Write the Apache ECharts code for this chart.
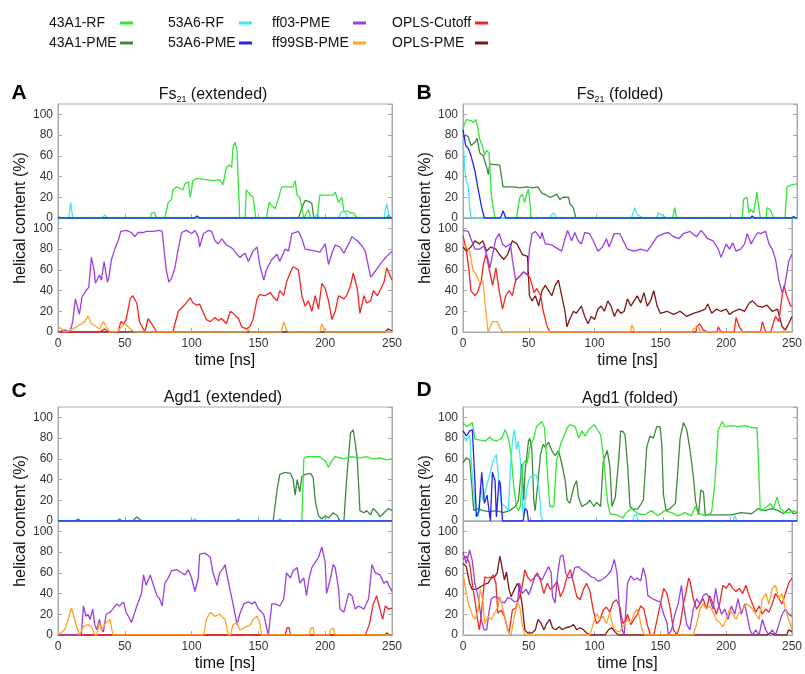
<!DOCTYPE html>
<html>
<head>
<meta charset="utf-8">
<script src="https://cdn.jsdelivr.net/npm/echarts@6/dist/echarts.min.js"></script>
<style>
  html, body { margin: 0; background: #fff; }
  #chart { width: 805px; height: 674px; }
</style>
</head>
<body>
<div id="chart"></div>
<script>
// ---- data: [time ns, helical content %] ----
// A: Fs21 (extended)
const A_rf = [[0,0],[69,0],[70,5],[72.5,5],[73.5,0],[80,0],[82.5,15],[85,18],[86,27],[88.5,30],[91,29],[93.5,27],[95,33],[97.5,35],[99,20],[101,36],[103.5,38],[106,38],[111,37],[116,36],[121,37],[123.5,32],[126,49],[128.5,51],[130,49],[131,68],[132.5,73],[134,65],[136,0],[140,0],[141,27],[143.5,23],[146,20],[148,0],[156,0],[158,15],[160,12],[162.5,9],[165,19],[167.5,30],[176,30],[177.5,36],[179,22],[181,20],[184,0],[186,5],[187.5,8],[189,0],[194,0],[196,22],[206,22],[207.5,25],[210,15],[212.5,20],[214,6],[216,7],[219,5],[221,5],[224,0],[250,0]];
const A_pme = [[0,1],[3,0],[180,0],[182.5,10],[185,17],[187.5,16],[190,14],[191.5,0],[246,0],[247.5,3],[249,0],[250,0]];
const A_53rf = [[0,0],[8,0],[9.5,15],[11,0],[33,0],[35,3],[37,0],[192,0],[194,4],[196,0],[210,0],[212,6],[215,6],[217,0],[244,0],[246,14],[248,0],[250,0]];
const A_53pme = [[0,0],[102,0],[104,2],[106,0],[250,0]];
const A_ff03 = [[0,0],[5,2],[9,0],[11,10],[13,32],[16,17],[18,34],[21,40],[23,43],[25,72],[27,60],[28,47],[31,55],[32.5,50],[34.5,68],[37,48],[38,52],[40,70],[42.5,80],[45,88],[47,97],[51,98],[55,96],[57.5,92],[60,96],[64,96],[66,97],[71,97],[76,98],[78,97],[80,72],[81,60],[83,48],[85,52],[87.5,62],[90,80],[92.5,96],[96,98],[100,95],[102.5,98],[105,92],[106,82],[109,95],[112.5,98],[115,97],[117.5,88],[120,85],[122.5,90],[126,84],[129,82],[131,80],[134,75],[136,72],[140,76],[142.5,68],[146,78],[149,82],[151,65],[154,50],[156,60],[160,70],[164,75],[166,68],[170,80],[172.5,78],[175,95],[180,97],[182.5,90],[185,80],[189,79],[192.5,78],[196,77],[200,85],[202.5,65],[205,76],[207.5,84],[211,82],[214,76],[217.5,85],[220,92],[224,88],[227.5,83],[230,78],[234,53],[236,56],[241,65],[244,70],[246,73],[250,78]];
const A_cut = [[0,0],[31,0],[35,3],[37.5,0],[45,0],[47,10],[49,8],[51,12],[54,32],[56,35],[59,28],[61,10],[63,5],[65,0],[67.5,13],[70,8],[74,0],[86,0],[90,20],[94,25],[99,33],[101,28],[104,26],[106,27],[109,18],[111,12],[114,10],[117.5,14],[120,11],[122.5,13],[126,8],[129,20],[131,18],[135,13],[137.5,5],[141,3],[143.5,5],[146,12],[149,32],[151,36],[155,35],[159,38],[161,34],[164,30],[166,40],[169,35],[171,48],[174,58],[176,63],[180,60],[182.5,35],[185,25],[187.5,30],[190,20],[192.5,35],[195,22],[197.5,47],[200,42],[202.5,30],[205,12],[207.5,20],[210,35],[214,32],[216,35],[219,45],[221,57],[224,42],[226,18],[229,35],[231,28],[234,30],[236,40],[239,35],[241,40],[244,48],[246,62],[250,50]];
const A_ff99 = [[0,5],[2.5,3],[5,0],[10,2],[14,5],[17.5,8],[20,10],[22.5,15],[25,8],[29,5],[31,3],[34,10],[36,5],[39,0],[44,0],[46,3],[50,8],[52.5,5],[55,2],[57.5,0],[141,0],[142.5,3],[144,0],[167,0],[169,10],[171,2],[173,0],[196,0],[197.5,8],[200,0],[250,0]];
const A_opls = [[0,0],[245,0],[247,3],[250,1]];

// B: Fs21 (folded)
const B_rf = [[0,86],[1.5,92],[2.5,95],[6,94],[7.5,92],[9.5,95],[11,88],[12.5,76],[15,68],[16,60],[17.5,65],[19.5,63],[21,25],[22.5,10],[24,0],[40,0],[42.5,20],[44.5,23],[46,15],[47.5,22],[49,28],[50.5,10],[51,0],[157,0],[158.5,10],[160,0],[209,0],[210,18],[212.5,20],[214,5],[215.5,8],[217.5,5],[220,25],[222.5,0],[227,0],[227.5,10],[230,8],[232.5,0],[241,0],[242.5,30],[246,32],[250,33]];
const B_pme = [[0,78],[2.5,80],[4,78],[6,70],[9,73],[10.5,77],[12.5,63],[15,60],[17.5,50],[19,42],[20,52],[27.5,51],[30,30],[37.5,30],[42.5,29],[47.5,30],[52.5,29],[56,30],[59,24],[62.5,22],[65,20],[67.5,21],[70,23],[72.5,18],[75,20],[79,20],[80,14],[82.5,10],[84.5,0],[250,0]];
const B_53rf = [[0,75],[1.5,45],[2.5,35],[4,30],[5,10],[6,0],[65,0],[66,3],[68,5],[70,0],[126,0],[128.5,10],[130.5,3],[135,0],[145,0],[146,5],[150,2],[152.5,0],[250,0]];
const B_53pme = [[0,85],[2,70],[4,67],[6,60],[9,45],[11,30],[14,10],[16,0],[28,0],[30,7],[32,0],[215,0],[216.5,2],[218,0],[246,0],[247.5,1.5],[249,0],[250,0]];
const B_ff03 = [[0,98],[4,97],[6,90],[9,80],[12.5,80],[16,83],[19,70],[20.5,62],[22.5,75],[25,90],[27.5,95],[30,85],[32.5,82],[36,85],[37.5,70],[40,50],[44,55],[46,58],[49,55],[50.5,80],[52.5,95],[55,97],[59,90],[60,96],[62.5,85],[67.5,84],[72.5,80],[75,78],[77.5,90],[79.5,98],[82.5,88],[85,96],[87.5,88],[90,85],[92.5,96],[96,95],[99,88],[102.5,78],[106,82],[109,90],[111,82],[115,95],[119,95],[121,90],[125,80],[130,78],[135,80],[140,78],[144,85],[147.5,92],[152.5,95],[156,96],[160,92],[164,90],[167.5,95],[172.5,97],[177.5,92],[181,98],[186,90],[190,88],[194,80],[196,72],[200,85],[202.5,80],[205,86],[207.5,78],[211,80],[214,85],[216,95],[219,85],[221,90],[224,96],[226,95],[230,97],[232.5,85],[235,80],[237.5,70],[240,50],[242.5,38],[244.5,45],[247.5,68],[250,75]];
const B_cut = [[0,93],[2.5,80],[4.5,60],[6,40],[9,35],[11,38],[14,50],[15.5,65],[17.5,75],[20,60],[22.5,45],[25,62],[27.5,40],[30,22],[32.5,35],[35,40],[37.5,35],[40,50],[44,55],[46,58],[49,55],[51,52],[54,38],[56,42],[59,35],[61,20],[64,5],[66,0],[177,0],[177.5,5],[180,8],[182.5,2],[186,0],[193,0],[194,5],[196,0],[206,0],[207.5,14],[210,5],[212.5,0],[226,0],[227.5,10],[230,0],[234,0],[235,5],[237.5,15],[240,10],[242.5,35],[244,45],[246,35],[249,25],[250,25]];
const B_ff99 = [[0,85],[2.5,82],[5,78],[7.5,60],[10,55],[12.5,48],[15,50],[17,25],[19,0],[20,0],[22.5,10],[26,10],[29,2],[30,0],[127,0],[128.5,7],[130.5,0],[174,0],[175,3],[178.5,5],[181,0],[243,0],[244,2],[246,0],[250,0]];
const B_opls = [[0,82],[2.5,78],[6,82],[9,88],[12.5,85],[15,88],[18,78],[21,82],[25,80],[27.5,75],[31,70],[34,75],[37.5,88],[41,85],[45,75],[49,73],[50.5,35],[52.5,30],[55,35],[57.5,25],[60,40],[62.5,45],[65,40],[67.5,35],[70,45],[72.5,50],[75,35],[77.5,20],[79,5],[81,12],[84,20],[86,18],[90,25],[92.5,15],[95,8],[97.5,15],[100,12],[102.5,22],[105,25],[107.5,20],[110,30],[112.5,25],[115,15],[117.5,22],[120,18],[122.5,20],[125,32],[127.5,25],[130,30],[132.5,35],[135,28],[137.5,38],[140,25],[142.5,30],[145,40],[147.5,25],[150,18],[155,20],[160,17],[165,20],[170,15],[175,18],[180,20],[184,22],[186,27],[189,18],[192.5,22],[196,20],[200,22],[202.5,17],[206,20],[210,22],[214,20],[217.5,28],[220,30],[224,25],[227.5,24],[231,26],[235,20],[239,22],[242.5,5],[245,2],[247.5,8],[250,15]];

// C: Agd1 (extended)
const C_rf = [[0,0],[59,0],[61,1.5],[63,0],[133,0],[135,2],[137,0],[164,0],[166,2],[168,0],[182.5,0],[184,60],[186,62],[196,62],[200,58],[202.5,52],[205,58],[207.5,62],[214,60],[219,62],[226,61],[231,62],[236,60],[241,61],[246,59],[250,60]];
const C_pme = [[0,0],[13,0],[15,2],[17,0],[30,0],[31,1],[32,0],[44,0],[46,2],[48,0],[56,0],[59,4],[61,2],[63,0],[161,0],[164,30],[166,45],[170,47],[174,46],[176,40],[177.5,25],[179,40],[181,28],[182.5,43],[185,45],[189,46],[191,42],[192.5,20],[195,5],[197.5,2],[200,5],[202.5,3],[206,8],[209,5],[211,0],[214,0],[216,40],[219,85],[221,88],[222.5,75],[224,60],[226,10],[229,8],[231,10],[234,6],[236,12],[239,8],[241,4],[244,8],[247.5,12],[250,10]];
const C_53rf = [[0,0],[100,0],[102.5,2],[104,0],[250,0]];
const C_53pme = [[0,0],[250,0]];
const C_ff03 = [[0,0],[17.5,0],[19,28],[21,18],[22.5,20],[24,15],[26,25],[27.5,10],[29,5],[31,15],[32.5,5],[34,3],[36,20],[39,22],[41,25],[44,30],[46,28],[49,32],[51,22],[54,15],[55,12],[59,28],[62.5,40],[64,58],[66,48],[69,58],[71,50],[74,38],[76,35],[78,28],[80,50],[82.5,55],[85,62],[89,63],[92.5,60],[95,58],[97.5,63],[100,55],[102.5,42],[105,55],[106,78],[110,79],[114,75],[116,60],[119,48],[121,60],[124,65],[125,68],[127,55],[129,42],[131,30],[134,10],[136,20],[139,30],[142.5,32],[145,30],[147.5,32],[150,25],[154,20],[156,8],[157.5,0],[160,30],[162.5,30],[166,28],[169,35],[171,60],[174,55],[176,62],[179,65],[181,50],[184,55],[186,38],[188,55],[190,65],[192.5,70],[195,75],[197.5,85],[200,70],[201,40],[204,55],[206,68],[207.5,65],[210,45],[211,25],[214,22],[217.5,40],[220,38],[222.5,25],[225,28],[229,25],[232.5,35],[235,68],[237.5,60],[241,58],[244,50],[246,52],[250,42]];
const C_ff99 = [[0,0],[1,0],[5,5],[7.5,15],[10,26],[12.5,15],[14,8],[16,0],[17,0],[19,8],[22.5,10],[25,8],[27.5,0],[29,0],[31,12],[32.5,5],[36,12],[39,15],[41,0],[109,0],[111,15],[114,22],[117.5,18],[121,20],[125,15],[127.5,0],[129,0],[131,10],[134,12],[136,5],[141,8],[144,10],[146,15],[149,18],[151,12],[152.5,0],[188,0],[189.5,7],[191,7],[192,0],[203,0],[204,5],[206,7],[207.5,0],[250,0]];
const C_cut = [[0,0],[170,0],[171.5,7],[173,7],[174,0],[230,0],[233,10],[236,30],[238.5,38],[241,25],[243,15],[245,28],[247.5,25],[250,26]];
const C_opls = [[0,0],[12,0],[13,1.5],[14,0],[228,0],[229,1],[230,0],[245,0],[246,2],[248,0],[250,0]];

// D: Agd1 (folded)
const D_rf = [[0,95],[2.5,91],[5,93],[7,95],[9,79],[13,78],[16.5,77],[20,81],[22.5,78],[25,77],[29,80],[31.5,88],[34,80],[36,64],[38,33],[40,14],[41.5,10],[43,15],[45,55],[46.5,58],[48,56],[50,71],[53,80],[55,91],[59,96],[61,90],[62,71],[64,30],[65,14],[68,14],[70,58],[73,74],[75,80],[78,90],[80,93],[84,91],[86.5,80],[89,87],[91.5,82],[94,88],[98,93],[100,90],[103,83],[105,64],[108,20],[110,7],[115,6],[120,3],[121.3,7],[126,12],[131,7],[136,6],[141,10],[146,5],[151,10],[156,8],[161,5],[166,8],[171,5],[174,14],[176,8],[181,5],[186,8],[188.5,36],[191,87],[194,96],[196,91],[201,92],[206,91],[211,92],[216,90],[220,90],[221.3,52],[222.5,10],[226,12],[230,17],[232.5,12],[235,23],[237.5,12],[241,8],[244,8],[247.5,10],[250,8]];
const D_pme = [[0,56],[2.5,61],[5,59],[6.5,36],[8,10],[11.5,12],[15,10],[20,9],[25,10],[30,8],[35,10],[39,14],[41.5,20],[44,55],[45.5,20],[46.5,48],[49,77],[50,80],[51.5,70],[53,20],[54,10],[56,36],[58,64],[60,74],[61.5,71],[64,76],[66.5,68],[69,63],[71.5,68],[74,55],[76.5,39],[78,20],[80,17],[83,33],[85,39],[86.5,23],[89,14],[93,17],[95,20],[98,14],[100,18],[103,14],[105,58],[108,68],[110,52],[111.5,14],[114,23],[116.5,58],[118,87],[120,86],[121.3,83],[123.3,52],[125,14],[127.5,11],[131,12],[135,20],[137.5,71],[140,82],[142.5,80],[145,91],[147.5,91],[148.8,74],[150,26],[152,10],[155,12],[159,17],[161,52],[162.5,80],[165,95],[167.5,88],[170,68],[172.5,42],[174,20],[176.3,6],[178,30],[180,28],[181.3,6],[186,6],[193,6],[201,6],[208,8],[216,7],[221,12],[226,10],[231,12],[236,10],[240,7],[244,12],[247.5,7],[250,8]];
const D_53rf = [[0,83],[2.5,77],[5,83],[6.5,52],[9,14],[11.5,4],[13,33],[15,20],[17.5,33],[20,45],[22.5,58],[25,64],[27,36],[29,17],[31.5,14],[34,10],[35.5,52],[37,77],[38.5,88],[40,69],[41.5,77],[43,58],[45,5],[48,33],[50,42],[53,45],[55,44],[57,30],[58.5,4],[60,0],[127,0],[128.5,6],[130,6],[131,0],[202,0],[203.5,5],[205,0],[250,0]];
const D_53pme = [[0,87],[2.5,82],[5,87],[7,88],[9,36],[10,4],[12,10],[14,47],[16,17],[18,25],[19,26],[20.5,0],[22,47],[24,39],[25,4],[27,39],[28,36],[29.5,0],[45,0],[46.5,12],[48,10],[49,0],[250,0]];
const D_ff03 = [[0,80],[2.5,69],[5,82],[7,72],[9,50],[11.5,37],[14,14],[16,5],[18,5],[20,24],[21.5,35],[24,37],[26.5,36],[29,32],[31.5,31],[34,36],[36.5,35],[39,32],[41.5,33],[43,50],[45,40],[48,44],[50,39],[53,50],[55,58],[58,56],[60,53],[63,61],[65,66],[67,60],[68,37],[70,31],[72,60],[74,76],[76,77],[78,60],[80,55],[83,56],[85,65],[88,66],[90,63],[94,60],[97.5,56],[100,55],[102.5,52],[105,53],[107.5,55],[110,58],[112.5,62],[115,73],[117,60],[119,24],[121,5],[122.5,0],[125,50],[127.5,57],[130,53],[132.5,55],[135,52],[137,65],[139,55],[140.5,38],[144,35],[147.5,33],[150,32],[152.5,20],[155,12],[156,0],[158.5,5],[161,20],[163.5,30],[166,48],[167.5,30],[170,10],[172.5,5],[175,25],[177.5,35],[180,30],[182.5,38],[185,40],[187.5,35],[190,25],[192,45],[194,30],[196.5,20],[199,25],[201.5,15],[204,28],[206.5,20],[209,35],[211.5,20],[214,30],[216.5,15],[218,5],[220,0],[222.5,5],[225,0],[227.5,15],[230,5],[232.5,0],[235,5],[237.5,0],[240,10],[242.5,20],[245,25],[247.5,20],[250,18]];
const D_cut = [[0,73],[2.5,76],[5,69],[7,50],[9,34],[11,15],[12.5,5],[14,21],[16.5,56],[19,55],[21.5,56],[23,58],[25,50],[26.5,21],[29,24],[31.5,18],[34,5],[35,2],[37.5,24],[40,26],[43,37],[45,47],[47,63],[49,56],[51.5,52],[54,55],[56.5,60],[59,52],[61.5,40],[64,50],[66.5,44],[69,47],[71.5,52],[74,37],[76.5,44],[79,56],[81.5,63],[84,50],[86.5,37],[89,34],[91.5,44],[94,50],[96.5,42],[99,24],[101.5,11],[104,14],[106.5,24],[109,27],[111.5,22],[114,31],[116.5,34],[119,28],[121.5,11],[124,15],[125,20],[127.5,10],[130,15],[132.5,20],[135,28],[137.5,25],[140,10],[142.5,0],[145,0],[147.5,15],[150,30],[152.5,45],[155,40],[157.5,25],[160,5],[162.5,0],[165,10],[167.5,30],[170,45],[171.5,55],[172.5,52],[175,35],[177.5,25],[180,30],[182.5,35],[185,25],[187.5,38],[190,30],[192.5,20],[195,30],[197.5,48],[200,45],[202.5,50],[205,45],[207.5,42],[210,45],[212.5,40],[215,48],[217.5,38],[220,30],[222.5,22],[225,28],[227.5,20],[230,25],[232.5,22],[235,30],[237.5,40],[240,35],[242.5,30],[245,40],[247.5,50],[250,55]];
const D_ff99 = [[0,60],[2,44],[4,31],[6.5,21],[9,15],[11.5,24],[13,44],[15,34],[16.5,11],[19,18],[21.5,15],[24,21],[26.5,27],[28,37],[30,27],[33,11],[35,2],[36.5,0],[39,18],[41.5,31],[43,28],[45,11],[47,0],[96.5,0],[99,11],[101.5,21],[104,15],[106.5,18],[109,11],[111.5,21],[114,8],[116.5,4],[119,3],[122.5,10],[125,15],[127.5,12],[130,20],[132,25],[134,18],[136,5],[138,0],[175,0],[177.5,10],[180,25],[182.5,30],[185,25],[187.5,28],[190,22],[192.5,15],[195,12],[197.5,8],[200,15],[202.5,25],[205,20],[207.5,15],[210,22],[212.5,25],[215,30],[217.5,28],[220,25],[222.5,20],[225,15],[227.5,35],[230,40],[232.5,30],[235,45],[237.5,48],[240,35],[242.5,40],[245,25],[247.5,15],[250,5]];
const D_opls = [[0,69],[2.5,66],[5,50],[7,44],[9,44],[11.5,45],[14,47],[16.5,49],[19,50],[21.5,55],[24,56],[26,60],[28,76],[30,63],[31.5,53],[33,61],[35,44],[36.5,37],[39,44],[41.5,50],[43,44],[45,29],[47,5],[49,2],[52.5,2],[55,5],[57,15],[59,12],[61.5,5],[64,12],[66,15],[68,7],[70.5,5],[73,8],[75.5,5],[78,7],[81.5,8],[84,10],[86.5,5],[89,7],[91.5,5],[94,2],[96.5,0],[108,0],[110.5,5],[113,7],[115.5,3],[118,0],[231,0],[233,2],[235,1],[237,0],[246,0],[247.5,5],[250,3]];

const seriesNames = ['43A1-RF', '43A1-PME', '53A6-RF', '53A6-PME', 'ff03-PME', 'ff99SB-PME', 'OPLS-Cutoff', 'OPLS-PME'];
const seriesColors = ['#33e633', '#3a8a3a', '#40e6f0', '#2323ee', '#9b3fe0', '#ffa326', '#f42424', '#7d1616'];
const xTicks = [0, 50, 100, 150, 200, 250];
const yTicks = [0, 20, 40, 60, 80, 100];

const FONT = 'Liberation Sans, Arial, sans-serif';
const AXIS = '#a8a8a8';

const panels = [
  { letter: 'A', title: ['Fs', '21', ' (extended)'], left: 58, top: 104, titleX: 213, titleY: 95, letterY: 93,
    upper: [A_rf, A_pme, A_53rf, A_53pme], lower: [A_ff03, A_ff99, A_cut, A_opls] },
  { letter: 'B', title: ['Fs', '21', ' (folded)'], left: 463, top: 104, titleX: 620, titleY: 95, letterY: 93,
    upper: [B_rf, B_pme, B_53rf, B_53pme], lower: [B_ff03, B_ff99, B_cut, B_opls] },
  { letter: 'C', title: ['Agd1', '', ' (extended)'], left: 58, top: 407, titleX: 223, titleY: 398, letterY: 391,
    upper: [C_rf, C_pme, C_53rf, C_53pme], lower: [C_ff03, C_ff99, C_cut, C_opls] },
  { letter: 'D', title: ['Agd1', '', ' (folded)'], left: 463, top: 407, titleX: 630, titleY: 399, letterY: 390,
    upper: [D_rf, D_pme, D_53rf, D_53pme], lower: [D_ff03, D_ff99, D_cut, D_opls] }
];

const W = 334, H = 114;
const grid = [], xAxis = [], yAxis = [], series = [], graphic = [];

function addSub(left, top, showX, data, order, offset) {
  const gi = grid.length;
  grid.push({ left: left, top: top, width: W, height: H, show: true, borderColor: AXIS, borderWidth: 1 });
  xAxis.push({
    type: 'value', gridIndex: gi, min: xTicks[0], max: xTicks[xTicks.length - 1], interval: 50,
    axisLine: { show: true, lineStyle: { color: AXIS } },
    axisTick: { show: true, inside: true, length: 4, lineStyle: { color: AXIS } },
    axisLabel: { show: showX, fontSize: 12, color: '#333', margin: 6, fontFamily: FONT },
    splitLine: { show: false },
    name: showX ? 'time [ns]' : '', nameLocation: 'middle', nameGap: 21,
    nameTextStyle: { fontSize: 16, color: '#111', fontFamily: FONT }
  });
  [false, true].forEach(function (right) {
    yAxis.push({
      type: 'value', gridIndex: gi, min: yTicks[0], max: 110, interval: 20, position: right ? 'right' : 'left',
      axisLine: { show: true, lineStyle: { color: AXIS } },
      axisTick: { show: true, inside: true, length: 4, lineStyle: { color: AXIS } },
      axisLabel: { show: !right, showMaxLabel: false, fontSize: 12, color: '#333', margin: 5, fontFamily: FONT },
      splitLine: { show: false }
    });
  });
  order.forEach(function (k) {
    series.push({
      name: seriesNames[offset + k], type: 'line', xAxisIndex: gi, yAxisIndex: gi * 2,
      data: data[k], showSymbol: false, symbol: 'none', animation: false,
      lineStyle: { width: 1.3, color: seriesColors[offset + k] },
      itemStyle: { color: seriesColors[offset + k] }
    });
  });
}

panels.forEach(function (p) {
  addSub(p.left, p.top, false, p.upper, [1, 0, 2, 3], 0);
  addSub(p.left, p.top + H, true, p.lower, [3, 2, 0, 1], 4);
  graphic.push({
    type: 'text', x: p.titleX, y: p.titleY,
    style: {
      text: '{n|' + p.title[0] + '}' + (p.title[1] ? '{s|' + p.title[1] + '}' : '') + '{n|' + p.title[2] + '}',
      textAlign: 'center', textVerticalAlign: 'middle', fill: '#111',
      rich: {
        n: { fontSize: 16, lineHeight: 18, fontFamily: FONT, color: '#111' },
        s: { fontSize: 9, lineHeight: 9, verticalAlign: 'bottom', fontFamily: FONT, color: '#111' }
      }
    }
  });
  graphic.push({
    type: 'text', x: p.left - 39, y: p.letterY,
    style: { text: p.letter, font: 'bold 21px ' + FONT, fill: '#000', textAlign: 'center', textVerticalAlign: 'middle' }
  });
  graphic.push({
    type: 'text', x: p.left - 37, y: p.top + H, rotation: Math.PI / 2,
    style: { text: 'helical content (%)', font: '16px ' + FONT, fill: '#111', textAlign: 'center', textVerticalAlign: 'middle' }
  });
});

// legend: text left-aligned, short line swatch to its right
const legendCols = [
  { x: 49, w: 66, names: [seriesNames[0], seriesNames[1]] },
  { x: 168, w: 66, names: [seriesNames[2], seriesNames[3]] },
  { x: 272, w: 76, names: [seriesNames[4], seriesNames[5]] },
  { x: 392, w: 78, names: [seriesNames[6], seriesNames[7]] }
];
const legend = legendCols.map(function (c) {
  return {
    orient: 'vertical', left: c.x, top: 14, padding: 0, align: 'right',
    itemGap: 2, itemWidth: 13, itemHeight: 3, icon: 'rect',
    data: c.names,
    formatter: function (name) { return '{t|' + name + '}'; },
    textStyle: {
      color: '#111', fontFamily: FONT, fontSize: 14, lineHeight: 18,
      rich: { t: { width: c.w, align: 'left', fontSize: 14, lineHeight: 18, fontFamily: FONT, color: '#111' } }
    }
  };
});

const chart = echarts.init(document.getElementById('chart'));
chart.setOption({
  backgroundColor: '#fff',
  animation: false,
  legend: legend,
  grid: grid,
  xAxis: xAxis,
  yAxis: yAxis,
  series: series,
  graphic: graphic
});
</script>
</body>
</html>
